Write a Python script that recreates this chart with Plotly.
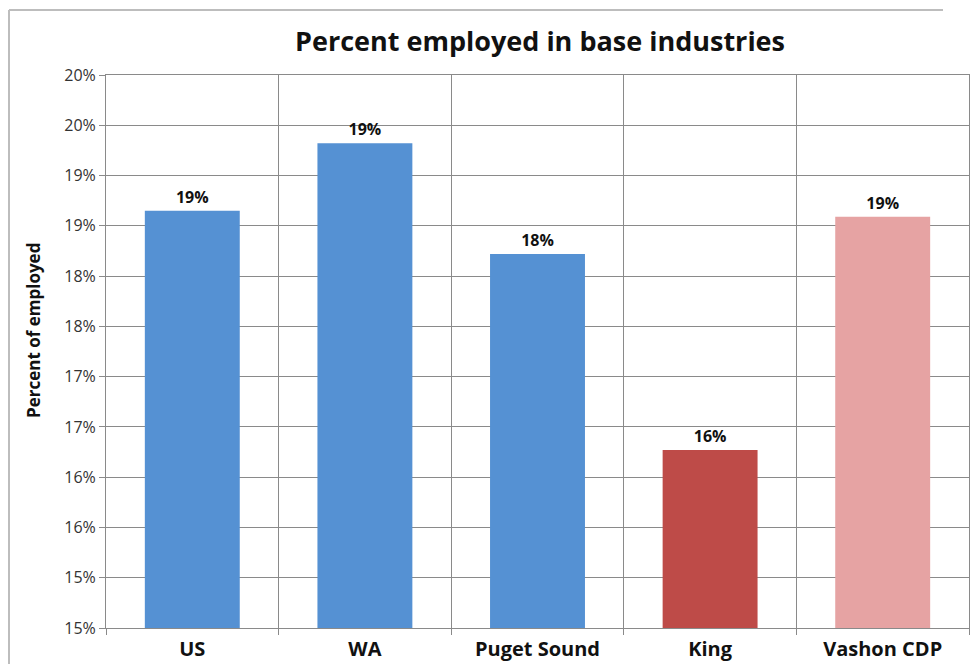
import plotly.graph_objects as go
import math

categories = ["US", "WA", "Puget Sound", "King", "Vashon CDP"]
values = [18.65, 19.32, 18.22, 16.27, 18.59]
bar_colors = ["#5591D3", "#5591D3", "#5591D3", "#BE4B48", "#E6A3A3"]
tick_values = [14.5, 15.0, 15.5, 16.0, 16.5, 17.0, 17.5, 18.0, 18.5, 19.0, 19.5, 20.0]


def pct_label(v):
    return f"{int(math.floor(v + 0.5 + 1e-9))}%"


tick_text = [pct_label(v) for v in tick_values]
bar_text = [pct_label(v) for v in values]

FONT = "Open Sans"
OFF = 8  # page body margin in the browser
W, H = 979 - 2 * OFF, 672 - 2 * OFF
# plot area in screen pixels: x 106..969, y 75..628
L = 106 - OFF
R = W - (969 - OFF)
T = 75 - OFF
B = H - (628 - OFF)
PW, PH = W - L - R, H - T - B


def sx(px):
    """screen x pixel -> paper x"""
    return (px - OFF - L) / PW


def sy(py):
    """screen y pixel -> paper y"""
    return (H - B - (py - OFF)) / PH


fig = go.Figure(
    go.Bar(
        x=categories,
        y=values,
        marker=dict(color=bar_colors, line=dict(width=0)),
        text=bar_text,
        textposition="outside",
        textfont=dict(family=FONT, size=16, color="#111111", weight="bold"),
        hoverinfo="x+y",
    )
)

fig.update_layout(
    width=W,
    height=H,
    margin=dict(l=L, r=R, t=T, b=B, autoexpand=False),
    paper_bgcolor="white",
    plot_bgcolor="white",
    bargap=0.45,
    showlegend=False,
    title=dict(
        text="<b>Percent employed in base industries</b>",
        x=(540 - OFF) / W,
        xanchor="center",
        y=1 - (42 - OFF) / H,
        yanchor="middle",
        font=dict(family=FONT, size=27, color="#111111"),
    ),
    xaxis=dict(
        type="category",
        automargin=False,
        tickson="boundaries",
        showgrid=True,
        gridcolor="#8a8a8a",
        gridwidth=1,
        showline=True,
        linecolor="#8a8a8a",
        linewidth=1,
        mirror=True,
        ticks="outside",
        ticklen=6,
        tickcolor="#8a8a8a",
        ticklabelstandoff=3,
        tickfont=dict(family=FONT, size=20, color="#111111", weight="bold"),
        range=[-0.5, 4.5],
    ),
    yaxis=dict(
        automargin=False,
        range=[14.5, 20.0],
        tickvals=tick_values,
        ticktext=tick_text,
        showgrid=True,
        gridcolor="#8a8a8a",
        gridwidth=1,
        showline=True,
        linecolor="#8a8a8a",
        linewidth=1,
        mirror=True,
        ticks="outside",
        ticklen=6,
        tickcolor="#8a8a8a",
        zeroline=False,
        tickfont=dict(family=FONT, size=16, color="#333333"),
    ),
)

# y-axis title placed as in the reference (slightly above plot centre)
fig.add_annotation(
    text="<b>Percent of employed</b>",
    xref="paper", yref="paper",
    x=sx(33), y=sy(331),
    xanchor="center", yanchor="middle",
    textangle=-90, showarrow=False,
    font=dict(family=FONT, size=17, color="#111111"),
)

# outer chart border (left and top edges visible in the reference)
x_left = sx(OFF + 1)
x_right = sx(943)
y_top = sy(10)
y_bot = sy(680)
fig.add_shape(type="line", xref="paper", yref="paper", x0=x_left, x1=x_left,
              y0=y_bot, y1=y_top, line=dict(color="#bdbdbd", width=2))
fig.add_shape(type="line", xref="paper", yref="paper", x0=x_left, x1=x_right,
              y0=y_top, y1=y_top, line=dict(color="#bdbdbd", width=2))

fig.write_html("out.html")
